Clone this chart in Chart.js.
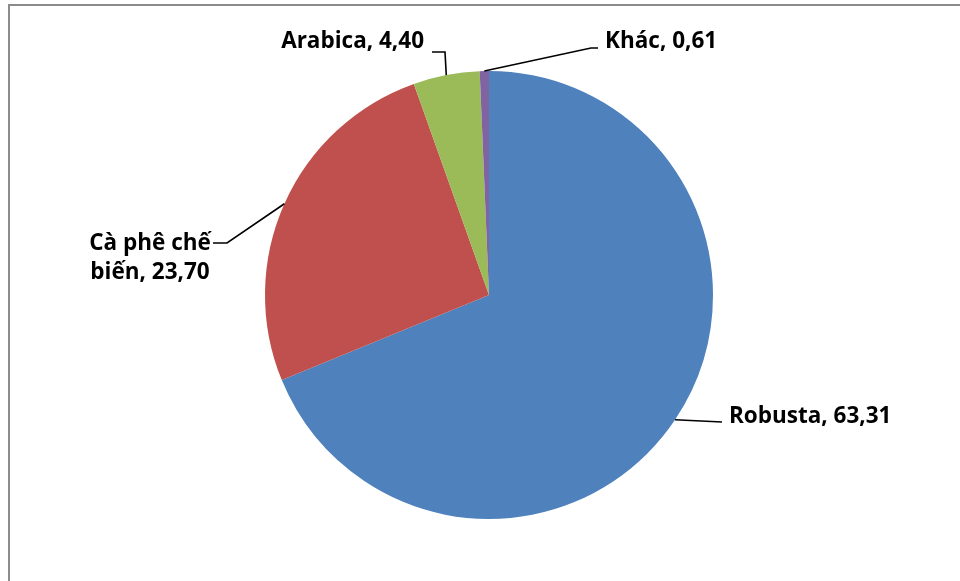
<!DOCTYPE html>
<html>
<head>
<meta charset="utf-8">
<script src="https://cdn.jsdelivr.net/npm/chart.js@4.4.0/dist/chart.umd.min.js"></script>
<style>
	html, body { margin: 0; padding: 0; background: #fff; }
	#wrap { position: relative; width: 960px; height: 581px; overflow: hidden; }
	#frame { position: absolute; left: 8px; top: 4px; width: 1000px; height: 700px; border-left: 2px solid #8c8c8c; border-top: 2px solid #8c8c8c; }
	#chart { position: absolute; left: 0; top: 0; }
</style>
</head>
<body>
<div id="wrap">
	<div id="frame"></div>
	<canvas id="chart" width="960" height="581"></canvas>
</div>
<script>
	const categories = ['Robusta', 'Cà phê chế biến', 'Arabica', 'Khác'];
	const shares = [63.31, 23.70, 4.40, 0.61];
	const colours = ['#4f81bd', '#c0504d', '#9bbb59', '#8064a2'];

	// where each label sits: elbow of the leader line, text anchor, alignment, wrap width
	const labelLayout = [
		{ elbow: [[722, 422]], x: 729, y: [423], align: 'left' },
		{ elbow: [[227, 243], [213, 243]], x: 150, y: [250, 279], align: 'center', wrap: 130 },
		{ elbow: [[445, 52], [432, 52]], x: 424, y: [48], align: 'right' },
		{ elbow: [[591, 48], [598, 48]], x: 605, y: [48], align: 'left' }
	];

	let fmt = function(v) {
		return v.toFixed(2).replace('.', ',');
	};

	let wrapText = function(ctx, text, width) {
		if (!width) {
			return [text];
		}
		let words = text.split(' '),
			lines = [],
			line = '';
		words.forEach(function(w) {
			let test = line ? line + ' ' + w : w;
			if (line && ctx.measureText(test).width > width) {
				lines.push(line);
				line = w;
			} else {
				line = test;
			}
		});
		lines.push(line);
		return lines;
	};

	const pieLabels = {
		id: 'pieLabels',
		afterDraw: function(chart) {
			let ctx = chart.ctx,
				arcs = chart.getDatasetMeta(0).data;

			ctx.save();
			ctx.font = 'bold 22.5px "Open Sans"';
			ctx.fillStyle = '#000';
			ctx.strokeStyle = '#000';
			ctx.lineWidth = 1.6;

			arcs.forEach(function(arc, i) {
				let p = arc.getProps(['x', 'y', 'startAngle', 'endAngle', 'outerRadius'], true),
					mid = (p.startAngle + p.endAngle) / 2,
					lay = labelLayout[i];

				ctx.beginPath();
				ctx.moveTo(p.x + Math.cos(mid) * p.outerRadius, p.y + Math.sin(mid) * p.outerRadius);
				lay.elbow.forEach(function(pt) {
					ctx.lineTo(pt[0], pt[1]);
				});
				ctx.stroke();

				let text = categories[i] + ', ' + fmt(shares[i]),
					lines = wrapText(ctx, text, lay.wrap);

				ctx.textAlign = lay.align;
				ctx.textBaseline = 'alphabetic';
				lines.forEach(function(line, j) {
					ctx.fillText(line, lay.x, lay.y[j]);
				});
			});
			ctx.restore();
		}
	};

	new Chart(document.getElementById('chart'), {
		type: 'pie',
		data: {
			labels: categories,
			datasets: [{
				data: shares,
				backgroundColor: colours,
				borderWidth: 0
			}]
		},
		options: {
			responsive: false,
			animation: false,
			layout: { padding: { left: 265, right: 247, top: 71, bottom: 62 } },
			plugins: {
				legend: { display: false },
				tooltip: { enabled: false }
			}
		},
		plugins: [pieLabels]
	});
</script>
</body>
</html>
